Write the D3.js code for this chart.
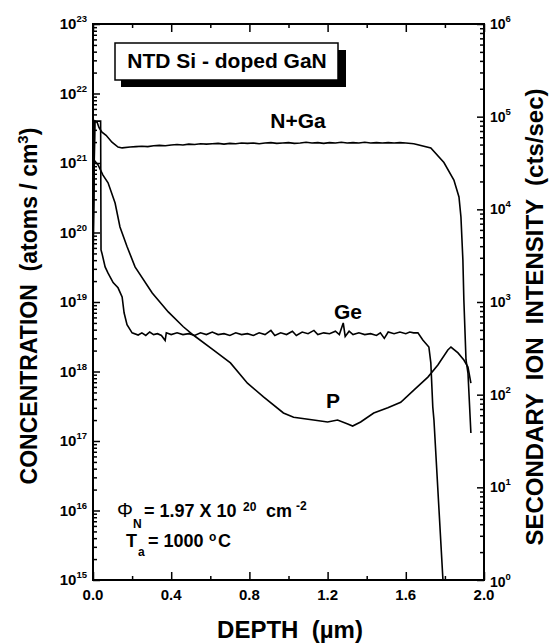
<!DOCTYPE html>
<html>
<head>
<meta charset="utf-8">
<script src="https://cdn.jsdelivr.net/npm/d3@7"></script>
<style>
  body { margin: 0; background: #fff; }
  svg text { font-family: "Liberation Sans", Arial, sans-serif; font-weight: bold; fill: #000; white-space: pre; }
  .tick line { stroke: #000; stroke-width: 1.5; }
  .domain { display: none; }
</style>
</head>
<body>
<svg id="chart" width="550" height="644"></svg>
<script>
// SIMS depth profile data
// depth in um, Ge and P in atoms/cm3 (left axis), N+Ga in cts/sec (right axis)
var geProfile = [
  [0.000, 2.0e19], [0.008, 4.0e21], [0.039, 4.0e21], [0.041, 5.6e19], [0.046, 5.0e19],
  [0.062, 3.2e19], [0.077, 2.6e19], [0.103, 1.9e19], [0.128, 1.6e19], [0.149, 1.18e19],
  [0.159, 7.0e18], [0.174, 4.7e18], [0.200, 3.6e18], [0.231, 3.35e18], [0.25, 3.6e18],
  [0.27, 3.3e18], [0.29, 3.7e18], [0.31, 3.4e18], [0.33, 3.5e18], [0.35, 3.3e18],
  [0.369, 2.8e18], [0.375, 3.6e18], [0.40, 3.4e18], [0.43, 3.6e18], [0.46, 3.4e18],
  [0.49, 3.5e18], [0.52, 3.3e18], [0.55, 3.6e18], [0.58, 3.4e18], [0.61, 3.7e18],
  [0.64, 3.4e18], [0.67, 3.5e18], [0.70, 3.3e18], [0.73, 3.6e18], [0.76, 3.4e18],
  [0.79, 3.5e18], [0.82, 3.3e18], [0.85, 3.6e18], [0.88, 3.4e18], [0.91, 3.9e18],
  [0.93, 3.3e18], [0.96, 3.6e18], [0.99, 3.4e18], [1.02, 3.8e18], [1.04, 3.3e18],
  [1.07, 3.7e18], [1.10, 3.5e18], [1.13, 3.9e18], [1.15, 3.4e18], [1.18, 3.6e18],
  [1.21, 3.5e18], [1.24, 3.8e18], [1.26, 3.4e18], [1.28, 5.0e18], [1.29, 3.2e18],
  [1.31, 3.8e18], [1.33, 3.4e18], [1.36, 3.6e18], [1.39, 3.4e18], [1.42, 3.5e18],
  [1.45, 3.3e18], [1.47, 3.6e18], [1.49, 3.0e18], [1.51, 3.7e18], [1.54, 3.5e18],
  [1.57, 3.7e18], [1.60, 3.5e18], [1.62, 3.7e18], [1.64, 3.6e18], [1.662, 3.6e18],
  [1.687, 2.84e18], [1.718, 2.25e18], [1.728, 1.33e18], [1.738, 3.1e17], [1.744, 2.0e17],
  [1.79, 1.0e15]
];

var pProfile = [
  [0.000, 5.0e19], [0.006, 1.1e21], [0.026, 9.4e20], [0.051, 6.7e20], [0.077, 5.2e20],
  [0.113, 2.65e20], [0.138, 1.2e20], [0.174, 6.3e19], [0.215, 3.2e19], [0.303, 1.35e19],
  [0.385, 7.2e18], [0.462, 4.4e18], [0.513, 3.35e18], [0.615, 2.04e18], [0.703, 1.33e18],
  [0.790, 6.8e17], [0.872, 4.3e17], [0.974, 2.53e17], [1.026, 2.2e17], [1.128, 2.0e17],
  [1.200, 1.88e17], [1.251, 2.0e17], [1.303, 1.76e17], [1.328, 1.64e17], [1.369, 1.88e17],
  [1.436, 2.53e17], [1.508, 3.0e17], [1.574, 3.6e17], [1.641, 5.4e17], [1.713, 8.3e17],
  [1.764, 1.24e18], [1.815, 2.04e18], [1.831, 2.25e18], [1.867, 1.85e18], [1.897, 1.46e18],
  [1.918, 1.16e18], [1.933, 6.8e17]
];

var nGaProfile = [
  [0.000, 6.0e3], [0.010, 9.0e4], [0.021, 8.7e4], [0.031, 7.6e4], [0.046, 6.8e4],
  [0.067, 6.3e4], [0.097, 5.3e4], [0.128, 4.7e4], [0.149, 4.6e4], [0.19, 4.7e4],
  [0.22, 4.75e4], [0.25, 4.8e4], [0.28, 4.75e4], [0.31, 4.85e4], [0.34, 4.9e4],
  [0.37, 4.85e4], [0.40, 4.95e4], [0.43, 5.0e4], [0.46, 4.95e4], [0.49, 5.05e4],
  [0.52, 5.0e4], [0.55, 5.1e4], [0.58, 5.05e4], [0.61, 5.1e4], [0.64, 5.15e4],
  [0.67, 5.05e4], [0.70, 5.15e4], [0.73, 5.1e4], [0.76, 5.2e4], [0.79, 5.15e4],
  [0.82, 5.2e4], [0.85, 5.1e4], [0.88, 5.2e4], [0.91, 5.25e4], [0.94, 5.15e4],
  [0.97, 5.2e4], [1.00, 5.25e4], [1.03, 5.15e4], [1.06, 5.2e4], [1.09, 5.3e4],
  [1.12, 5.2e4], [1.15, 5.25e4], [1.18, 5.15e4], [1.21, 5.25e4], [1.24, 5.2e4],
  [1.27, 5.3e4], [1.30, 5.2e4], [1.33, 5.25e4], [1.36, 5.2e4], [1.39, 5.3e4],
  [1.42, 5.2e4], [1.45, 5.25e4], [1.48, 5.2e4], [1.51, 5.25e4], [1.54, 5.2e4],
  [1.57, 5.25e4], [1.60, 5.2e4], [1.641, 5.1e4], [1.728, 4.6e4], [1.795, 3.2e4],
  [1.846, 2.07e4], [1.872, 1.36e4], [1.882, 8.3e3], [1.892, 2.84e3], [1.897, 1.05e3],
  [1.908, 237], [1.918, 171], [1.933, 38.6]
];

var leftDecades = [15, 16, 17, 18, 19, 20, 21, 22, 23];
var rightDecades = [0, 1, 2, 3, 4, 5, 6];
var depthTicks = [0.0, 0.4, 0.8, 1.2, 1.6, 2.0];
var depthMinor = [0.2, 0.6, 1.0, 1.4, 1.8];

var plotL = 93, plotR = 484, plotT = 24, plotB = 580;

var svg = d3.select("#chart");

var x = d3.scaleLinear().domain([0, 2]).range([plotL, plotR]);
var yL = d3.scaleLog().domain([1e15, 1e23]).range([plotB, plotT]);
var yR = d3.scaleLog().domain([1, 1e6]).range([plotB, plotT]);

function minorsOf(decades) {
    var out = [];
    decades.slice(0, -1).forEach(function (e) {
        for (var k = 2; k <= 9; k++) out.push(k * Math.pow(10, e));
    });
    return out;
}
function pow10(e) { return Math.pow(10, e); }

// left axis, ticks pointing in
svg.append("g").attr("transform", "translate(" + plotL + ",0)")
    .call(d3.axisRight(yL).tickValues(leftDecades.map(pow10)).tickSize(7).tickFormat(""));
svg.append("g").attr("transform", "translate(" + plotL + ",0)")
    .call(d3.axisRight(yL).tickValues(minorsOf(leftDecades)).tickSize(4).tickFormat(""));

// right axis
svg.append("g").attr("transform", "translate(" + plotR + ",0)")
    .call(d3.axisLeft(yR).tickValues(rightDecades.map(pow10)).tickSize(7).tickFormat(""));
svg.append("g").attr("transform", "translate(" + plotR + ",0)")
    .call(d3.axisLeft(yR).tickValues(minorsOf(rightDecades)).tickSize(4).tickFormat(""));

// bottom and top axes
svg.append("g").attr("transform", "translate(0," + plotB + ")")
    .call(d3.axisTop(x).tickValues(depthTicks).tickSize(8).tickFormat(""));
svg.append("g").attr("transform", "translate(0," + plotB + ")")
    .call(d3.axisTop(x).tickValues(depthMinor).tickSize(4).tickFormat(""));
svg.append("g").attr("transform", "translate(0," + plotT + ")")
    .call(d3.axisBottom(x).tickValues(depthTicks).tickSize(8).tickFormat(""));
svg.append("g").attr("transform", "translate(0," + plotT + ")")
    .call(d3.axisBottom(x).tickValues(depthMinor).tickSize(4).tickFormat(""));

// frame
svg.append("rect")
    .attr("x", plotL).attr("y", plotT)
    .attr("width", plotR - plotL).attr("height", plotB - plotT)
    .attr("fill", "none").attr("stroke", "#000").attr("stroke-width", 2);

// tick labels
function powLabel(g, xx, yy, exp, anchor, size) {
    var t = g.append("text").attr("x", xx).attr("y", yy)
        .attr("text-anchor", anchor).style("font-size", size + "px");
    t.append("tspan").text("10");
    t.append("tspan").attr("dy", -7).style("font-size", "9.5px").text(exp);
}
leftDecades.forEach(function (e) {
    powLabel(svg, 87, yL(pow10(e)) + 5, e, "end", 15);
});
rightDecades.forEach(function (e) {
    powLabel(svg, 490, yR(pow10(e)) + 5 + (e === 0 ? 2 : 0), e, "start", 14);
});
svg.selectAll(".xlab").data(depthTicks).enter().append("text")
    .attr("class", "xlab")
    .attr("x", function (d) { return x(d); })
    .attr("y", 600)
    .attr("text-anchor", "middle")
    .style("font-size", "15px")
    .text(function (d) { return d.toFixed(1); });

// axis titles
var lt = svg.append("text")
    .attr("transform", "translate(37,306) rotate(-90)")
    .attr("text-anchor", "middle")
    .style("font-size", "23px");
lt.append("tspan").text("CONCENTRATION  (atoms / cm");
lt.append("tspan").attr("dy", -9).style("font-size", "15px").text("3");
lt.append("tspan").attr("dy", 9).text(")");

svg.append("text")
    .attr("transform", "translate(543,317) rotate(-90)")
    .attr("text-anchor", "middle")
    .style("font-size", "24px")
    .text("SECONDARY  ION  INTENSITY  (cts/sec)");

svg.append("text")
    .attr("x", 290).attr("y", 638)
    .attr("text-anchor", "middle")
    .style("font-size", "24px")
    .text("DEPTH  (\u00b5m)");

// curves
svg.append("clipPath").attr("id", "plotClip")
    .append("rect").attr("x", plotL).attr("y", plotT)
    .attr("width", plotR - plotL).attr("height", plotB - plotT);

var lineL = d3.line().x(function (d) { return x(d[0]); }).y(function (d) { return yL(d[1]); });
var lineR = d3.line().x(function (d) { return x(d[0]); }).y(function (d) { return yR(d[1]); });

var curves = svg.append("g").attr("clip-path", "url(#plotClip)");
curves.append("path").datum(geProfile).attr("d", lineL)
    .attr("fill", "none").attr("stroke", "#000").attr("stroke-width", 1.6);
curves.append("path").datum(pProfile).attr("d", lineL)
    .attr("fill", "none").attr("stroke", "#000").attr("stroke-width", 1.6);
curves.append("path").datum(nGaProfile).attr("d", lineR)
    .attr("fill", "none").attr("stroke", "#000").attr("stroke-width", 1.6);

// curve labels
svg.append("text").attr("x", 298).attr("y", 128).attr("text-anchor", "middle")
    .style("font-size", "21px").text("N+Ga");
svg.append("text").attr("x", 348).attr("y", 319).attr("text-anchor", "middle")
    .style("font-size", "21px").text("Ge");
svg.append("text").attr("x", 333).attr("y", 408).attr("text-anchor", "middle")
    .style("font-size", "21px").text("P");

// title box with shadow
svg.append("rect").attr("x", 121).attr("y", 50).attr("width", 225).attr("height", 37).attr("fill", "#000");
svg.append("rect").attr("x", 115).attr("y", 43).attr("width", 223).attr("height", 37)
    .attr("fill", "#fff").attr("stroke", "#000").attr("stroke-width", 1.5);
svg.append("text").attr("x", 227).attr("y", 68).attr("text-anchor", "middle")
    .style("font-size", "21px").text("NTD Si - doped GaN");

// fluence and anneal annotation
var phi = svg.append("text").attr("y", 517).style("font-size", "18px");
phi.append("tspan").attr("x", 117).style("font-weight", "normal").style("font-size", "20px").text("\u03a6");
phi.append("tspan").attr("x", 133).attr("y", 528).style("font-size", "12px").text("N");
phi.append("tspan").attr("x", 144).attr("y", 517).text("= 1.97 X 10");
phi.append("tspan").attr("x", 243).attr("y", 511).style("font-size", "12px").text("20");
phi.append("tspan").attr("x", 266).attr("y", 517).text("cm");
phi.append("tspan").attr("x", 296).attr("y", 510).style("font-size", "12px").text("-2");

var ta = svg.append("text").attr("y", 547).style("font-size", "18px");
ta.append("tspan").attr("x", 126).text("T");
ta.append("tspan").attr("x", 138).attr("y", 556).style("font-size", "12px").text("a");
ta.append("tspan").attr("x", 148).attr("y", 547).text("= 1000");
ta.append("tspan").attr("x", 209).attr("y", 541).style("font-size", "12px").text("o");
ta.append("tspan").attr("x", 218).attr("y", 547).text("C");
</script>
</body>
</html>
